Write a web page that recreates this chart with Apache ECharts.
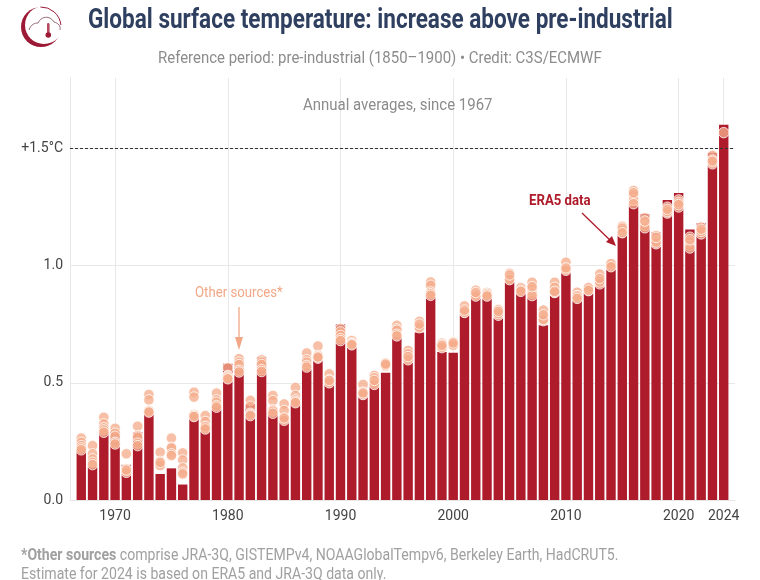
<!DOCTYPE html>
<html>
<head>
<meta charset="utf-8">
<style>html,body{margin:0;padding:0;background:#fff}#main{width:760px;height:580px}</style>
<script src="https://cdn.jsdelivr.net/npm/echarts@6/dist/echarts.min.js"></script>
</head>
<body>
<div id="main"></div>
<script>
var years = ['1966','1967','1968','1969','1970','1971','1972','1973','1974','1975','1976','1977','1978','1979','1980','1981','1982','1983','1984','1985','1986','1987','1988','1989','1990','1991','1992','1993','1994','1995','1996','1997','1998','1999','2000','2001','2002','2003','2004','2005','2006','2007','2008','2009','2010','2011','2012','2013','2014','2015','2016','2017','2018','2019','2020','2021','2022','2023','2024','2025'];
var labelYears = ['1970','1980','1990','2000','2010','2020','2024'];

// values from 1967 to 2024
var era5 = [.232,.142,.3,.296,.15,.29,.37,.111,.135,.066,.35,.293,.4,.581,.57,.41,.61,.39,.36,.413,.56,.61,.493,.749,.665,.446,.484,.543,.695,.584,.714,.866,.631,.628,.788,.863,.863,.778,.929,.882,.868,.745,.905,.969,.853,.886,.912,.983,1.128,1.254,1.22,1.142,1.28,1.31,1.154,1.18,1.481,1.601];
var jra = [.264,.232,.353,.306,.197,.315,.45,.204,.264,.201,.46,.36,.456,.564,.603,.425,.598,.446,.41,.48,.627,.657,.538,.73,.68,.493,.531,.584,.745,.638,.762,.93,.67,.674,.828,.895,.885,.813,.967,.905,.929,.81,.929,1.014,.886,.907,.964,1.01,1.168,1.32,1.204,1.128,1.249,1.28,1.121,1.164,1.47,1.567];
var gistemp = [.246,.197,.325,.285,.132,.275,.427,.165,.225,.171,.439,.335,.427,.531,.588,.4,.588,.424,.382,.446,.598,.617,.513,.717,.67,.46,.521,.578,.73,.624,.745,.916,.664,.667,.806,.88,.885,.802,.95,.9,.9,.78,.907,.986,.872,.9,.936,1.004,1.142,1.3,1.185,1.107,1.235,1.264,1.1,1.15,1.44,null];
var noaa = [.232,.175,.308,.272,.125,.268,.382,.154,.222,.137,.365,.308,.417,.527,.578,.37,.578,.385,.346,.427,.588,.61,.503,.702,.667,.453,.499,.57,.724,.603,.74,.887,.655,.664,.802,.876,.88,.788,.943,.905,.882,.765,.886,.985,.865,.893,.922,1,1.15,1.28,1.171,1.093,1.224,1.25,1.085,1.135,1.434,null];
var berkeley = [.222,.161,.299,.246,.118,.242,.379,.147,.197,.118,.36,.313,.403,.521,.553,.365,.556,.379,.34,.42,.574,.605,.5,.688,.666,.45,.493,.575,.707,.598,.735,.88,.65,.66,.8,.87,.875,.795,.94,.895,.872,.77,.885,.98,.87,.905,.93,1.008,1.16,1.264,1.161,1.1,1.23,1.27,1.075,1.145,1.45,null];
var hadcrut = [.214,.151,.289,.239,.128,.232,.375,.16,.19,.111,.356,.303,.396,.517,.546,.36,.548,.37,.35,.415,.567,.61,.51,.68,.662,.457,.51,.58,.7,.612,.75,.873,.66,.67,.81,.885,.87,.805,.96,.89,.91,.79,.89,.99,.86,.895,.945,.995,1.14,1.31,1.19,1.12,1.24,1.26,1.11,1.155,1.445,null];

var FONT = 'Roboto, sans-serif';
var RED = '#ae1c2c';
var LOGO = '#9c1a35';
var PEACH = '#f5ad8c';
var GREY = '#8c8c8c';
var NARROW = 0.88; // the reference font is condensed

function dots(name, values) {
  return {
    name: name,
    type: 'scatter',
    data: [null].concat(values),
    symbolSize: 10.5,
    z: 5,
    itemStyle: { color: PEACH, opacity: 0.78, borderColor: '#fff', borderWidth: 1 }
  };
}

function label(text, x, y, size, fill, weight, scale, rich) {
  return {
    type: 'text', x: x, y: y, scaleX: scale || NARROW, z: 20,
    style: { text: text, fontFamily: FONT, fontSize: size, fontWeight: weight || 'normal', fill: fill, lineHeight: 19, rich: rich }
  };
}

var myChart = echarts.init(document.getElementById('main'));
myChart.setOption({
  animation: false,
  textStyle: { fontFamily: FONT },
  grid: { left: 70, right: 25, top: 78, bottom: 80 },
  xAxis: {
    type: 'category',
    data: years,
    boundaryGap: false,
    axisLine: { lineStyle: { color: '#e6e6e6' } },
    axisTick: { show: false },
    axisLabel: {
      interval: function (i, v) { return labelYears.indexOf(v) >= 0; },
      color: '#444', fontSize: 14, margin: 9
    },
    splitLine: {
      show: true,
      interval: function (i, v) { return labelYears.indexOf(v) >= 0; },
      lineStyle: { color: '#e8e8e8' }
    }
  },
  yAxis: {
    type: 'value',
    min: 0,
    max: 1.8,
    interval: 0.5,
    axisLine: { show: true, lineStyle: { color: '#e6e6e6' } },
    axisTick: { show: false },
    axisLabel: {
      color: '#444', fontSize: 14, margin: 7, showMaxLabel: false,
      formatter: function (v) { return v === 1.5 ? '+1.5°C' : v.toFixed(1); }
    },
    splitLine: { show: true, showMaxLine: false, lineStyle: { color: '#e8e8e8' } }
  },
  series: [
    {
      name: 'ERA5',
      type: 'bar',
      data: [null].concat(era5),
      barWidth: 9.4,
      z: 3,
      itemStyle: { color: RED },
      markLine: {
        silent: true,
        symbol: 'none',
        label: { show: false },
        lineStyle: { color: '#333', type: [3, 2], width: 1 },
        data: [{ yAxis: 1.5 }]
      }
    },
    dots('JRA-3Q', jra),
    dots('GISTEMPv4', gistemp),
    dots('NOAAGlobalTempv6', noaa),
    dots('Berkeley Earth', berkeley),
    dots('HadCRUT5', hadcrut)
  ],
  graphic: [
    // titles and notes
    label('Global surface temperature: increase above pre-industrial', 88, 12, 27, '#2f3f60', 'bold', 0.835),
    label('Reference period: pre-industrial (1850–1900) • Credit: C3S/ECMWF', 158, 49, 17, GREY),
    label('Annual averages, since 1967', 303, 96, 17, GREY),
    label('{b|*Other sources} comprise JRA-3Q, GISTEMPv4, NOAAGlobalTempv6, Berkeley Earth, HadCRUT5.\nEstimate for 2024 is based on ERA5 and JRA-3Q data only.', 21, 546, 16, '#a0a0a0', 'normal', NARROW,
      { b: { fontFamily: FONT, fontSize: 16, fontWeight: 'bold', fill: '#a0a0a0', color: '#a0a0a0', lineHeight: 19 } }),
    // annotations
    label('ERA5 data', 529, 192, 15, RED, 'bold'),
    { type: 'line', shape: { x1: 582, y1: 213, x2: 614, y2: 244 }, style: { stroke: RED, lineWidth: 1.3 } },
    { type: 'polygon', shape: { points: [[616, 246], [606, 242], [612, 236]] }, style: { fill: RED } },
    label('Other sources*', 195, 284, 15, '#f2a886'),
    { type: 'line', shape: { x1: 239, y1: 307, x2: 239, y2: 340 }, style: { stroke: '#f2a886', lineWidth: 1.3 } },
    { type: 'polygon', shape: { points: [[239, 350], [235, 337], [243, 337]] }, style: { fill: '#f2a886' } },
    // logo
    { type: 'circle', shape: { cx: 41, cy: 27, r: 20 }, style: { fill: LOGO } },
    { type: 'circle', shape: { cx: 44, cy: 25, r: 19 }, style: { fill: '#fff' } },
    { type: 'arc', shape: { cx: 41, cy: 27, r: 20, startAngle: -1.6, endAngle: -0.1 }, style: { fill: 'none', stroke: LOGO, lineWidth: 1 } },
    { type: 'bezierCurve', shape: { x1: 29, y1: 30, cpx1: 31, cpy1: 24, cpx2: 35, cpy2: 23, x2: 38, y2: 23 }, style: { fill: 'none', stroke: '#7a4a55', lineWidth: 0.8 } },
    { type: 'bezierCurve', shape: { x1: 38, y1: 23, cpx1: 41, cpy1: 16, cpx2: 50, cpy2: 15, x2: 54, y2: 22 }, style: { fill: 'none', stroke: '#7a4a55', lineWidth: 0.8 } },
    { type: 'bezierCurve', shape: { x1: 54, y1: 22, cpx1: 58, cpy1: 23, cpx2: 61, cpy2: 26, x2: 60, y2: 30 }, style: { fill: 'none', stroke: '#7a4a55', lineWidth: 0.8 } },
    { type: 'rect', shape: { x: 47, y: 23, width: 2.6, height: 11, r: 1.3 }, style: { fill: '#b8485f' } },
    { type: 'circle', shape: { cx: 48.3, cy: 35, r: 2.8 }, style: { fill: LOGO } }
  ]
});
</script>
</body>
</html>
